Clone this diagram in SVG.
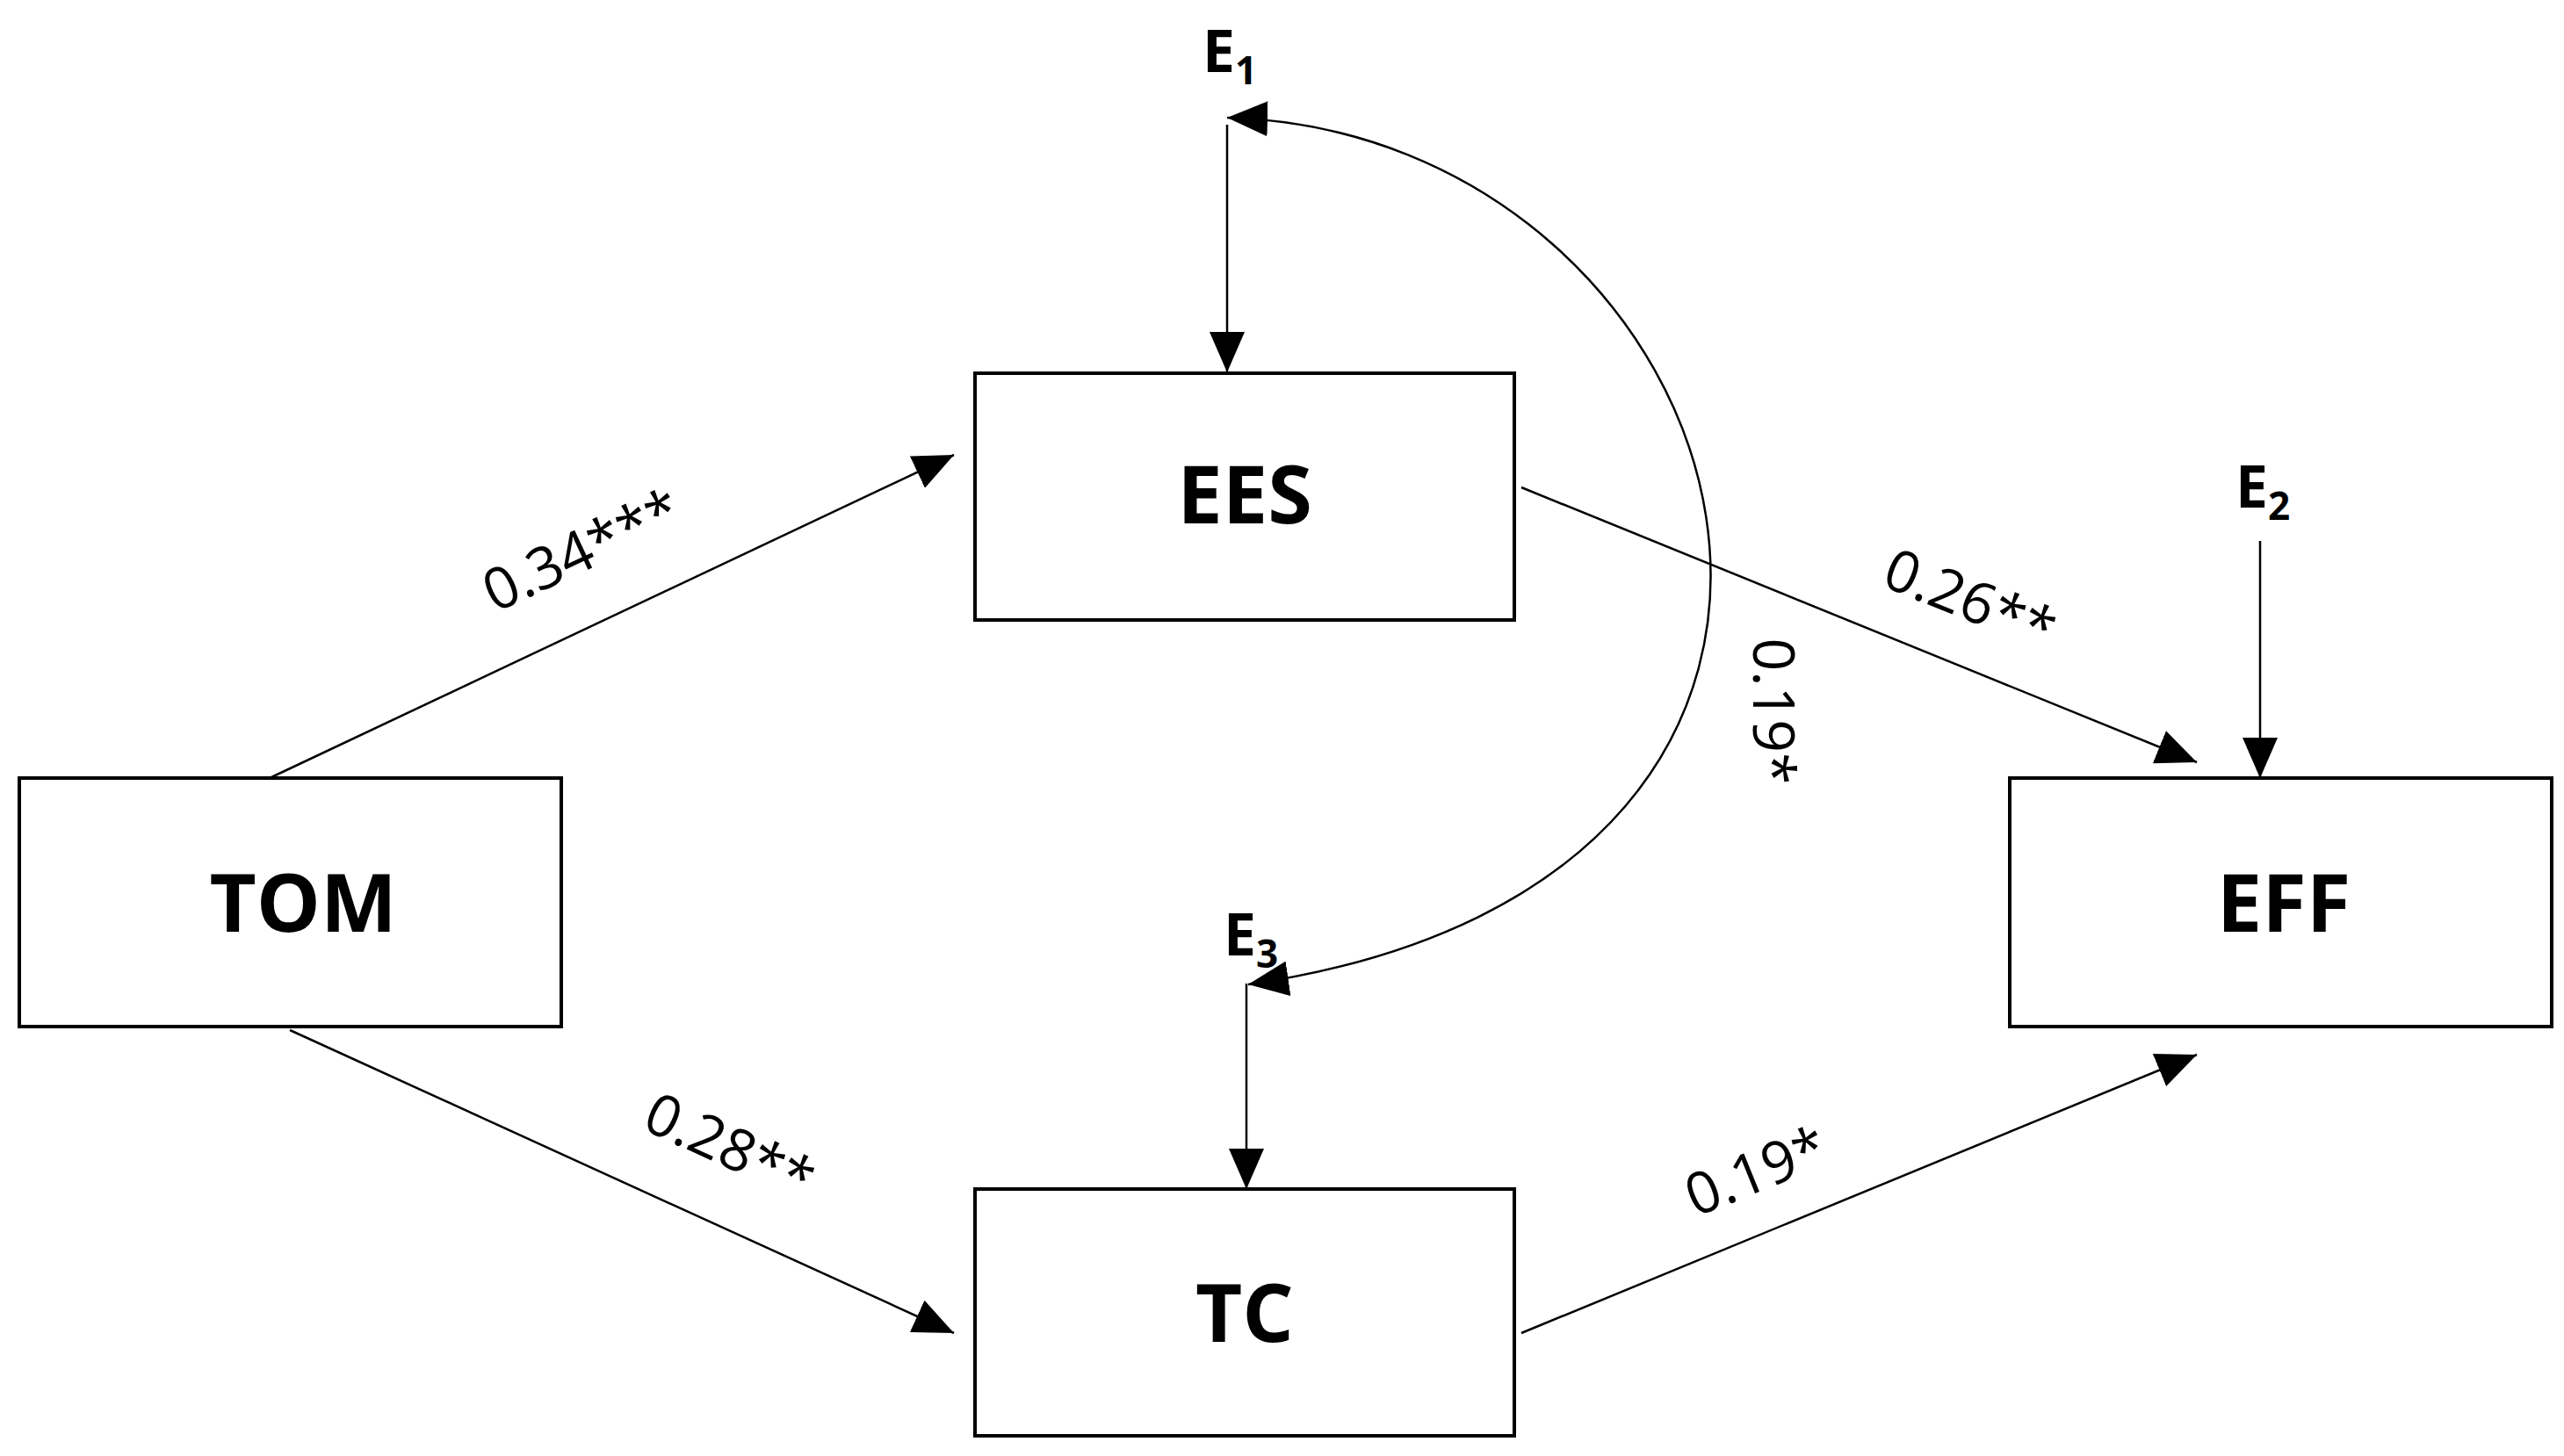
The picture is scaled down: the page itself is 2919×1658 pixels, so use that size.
<svg xmlns="http://www.w3.org/2000/svg" width="2919" height="1658" viewBox="0 0 2919 1658">
<style>
.box{fill:#fff;stroke:#000;stroke-width:4}
.lbl{font-family:"Open Sans","Liberation Sans",sans-serif;font-weight:bold;font-size:92px;text-anchor:middle;dominant-baseline:central}
.e{font-family:"Open Sans","Liberation Sans",sans-serif;font-weight:bold;font-size:66px;text-anchor:middle}
.c{font-family:"Open Sans","Liberation Sans",sans-serif;font-size:66px;text-anchor:middle;dominant-baseline:central}
.ln{fill:none;stroke:#000;stroke-width:2.5;marker-end:url(#ah)}
</style>
<defs>
<marker id="ah" markerUnits="userSpaceOnUse" markerWidth="46" markerHeight="40" refX="46" refY="20" orient="auto-start-reverse"><path d="M0,0 L46,20 L0,40 Z" fill="#000"/></marker>
</defs>
<rect width="2919" height="1658" fill="#fff"/>
<g id="connectors">
<line class="ln" x1="307" y1="886" x2="1086" y2="518"/>
<line class="ln" x1="330" y1="1173" x2="1086" y2="1518"/>
<line class="ln" x1="1732" y1="555" x2="2501" y2="868"/>
<line class="ln" x1="1732" y1="1518" x2="2501" y2="1201"/>
<line class="ln" x1="1397" y1="142" x2="1397" y2="424"/>
<line class="ln" x1="2573" y1="616" x2="2573" y2="886"/>
<line class="ln" x1="1419" y1="1120" x2="1419" y2="1354"/>
<path class="ln" style="marker-start:url(#ah)" d="M1397 134 C1990 150 2250 1000 1421 1121"/>
<text class="c" transform="translate(661,624) rotate(-25)">0.34***</text>
<text class="c" transform="translate(832,1303) rotate(24.5)">0.28**</text>
<text class="c" transform="translate(2244,680) rotate(22)">0.26**</text>
<text class="c" transform="translate(1998,1331) rotate(-22)">0.19*</text>
<text class="c" transform="translate(2022,810) rotate(90)">0.19*</text>
</g>
<g id="E1"><text class="e" x="1400" y="82">E<tspan font-size="44" dy="14">1</tspan></text></g>
<g id="E2"><text class="e" x="2576" y="578">E<tspan font-size="44" dy="14">2</tspan></text></g>
<g id="E3"><text class="e" x="1424" y="1088">E<tspan font-size="44" dy="14">3</tspan></text></g>
<g id="EES"><rect class="box" x="1110" y="425" width="614" height="281"/><text class="lbl" x="1417" y="560">EES</text></g>
<g id="TOM"><rect class="box" x="22" y="886" width="617" height="283"/><text class="lbl" x="345" y="1025">TOM</text></g>
<g id="TC"><rect class="box" x="1110" y="1354" width="614" height="281"/><text class="lbl" x="1417" y="1492">TC</text></g>
<g id="EFF"><rect class="box" x="2288" y="886" width="617" height="283"/><text class="lbl" x="2600" y="1025">EFF</text></g>
</svg>
